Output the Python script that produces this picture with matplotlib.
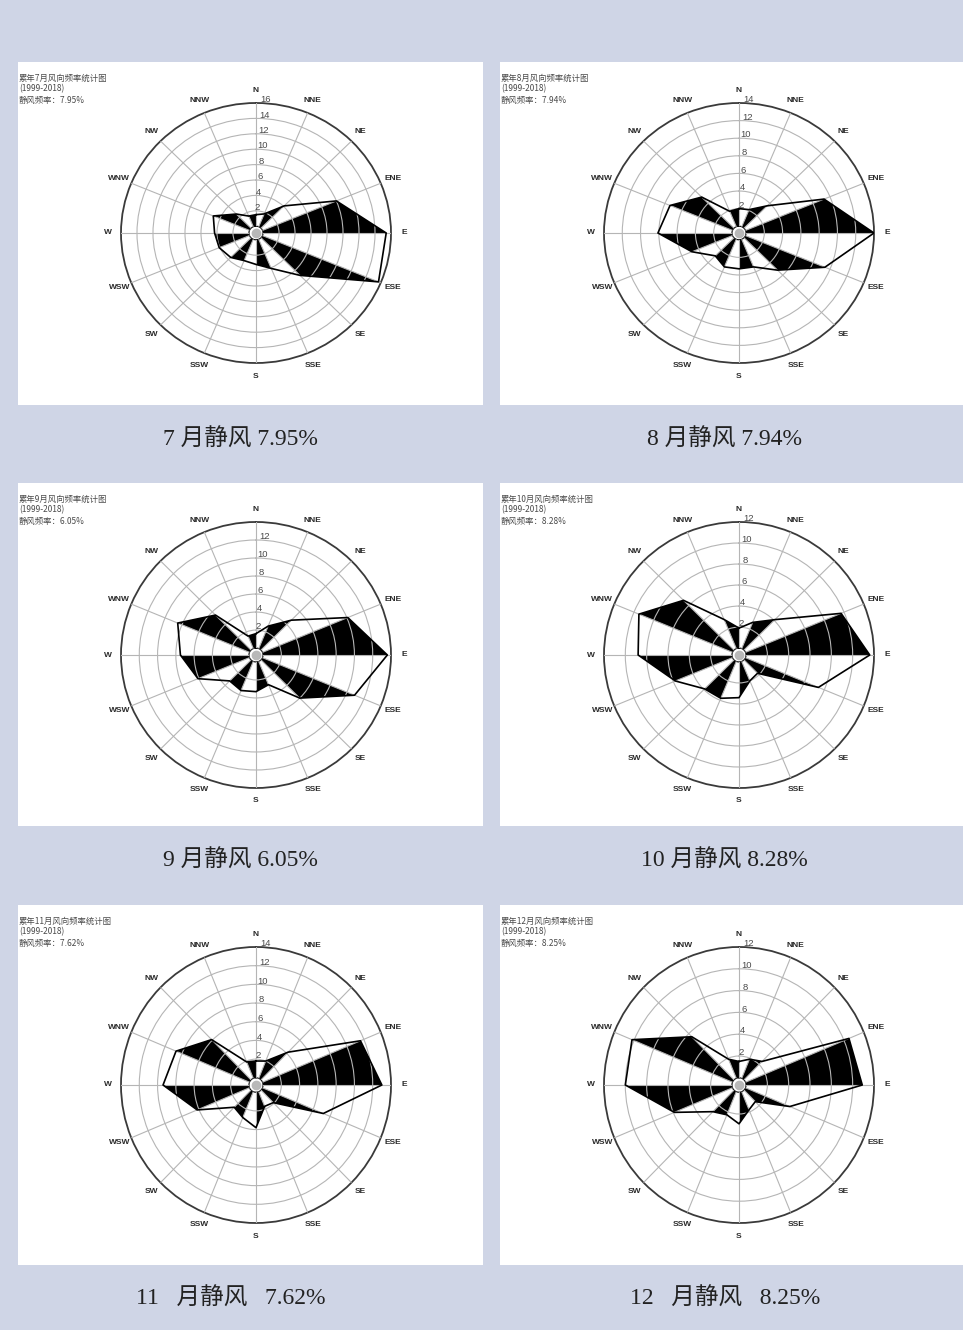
import matplotlib
matplotlib.use('Agg')
import matplotlib.pyplot as plt
from matplotlib import font_manager
from matplotlib.patches import Rectangle
import numpy as np

# 画布像素尺寸
W, H = 963, 1330

# 16个风向（从N起顺时针）
directions = ['N', 'NNE', 'NE', 'ENE', 'E', 'ESE', 'SE', 'SSE',
              'S', 'SSW', 'SW', 'WSW', 'W', 'WNW', 'NW', 'NNW']

months = [7, 8, 9, 10, 11, 12]
calm_freq = ['7.95', '7.94', '6.05', '8.28', '7.62', '8.25']
captions = ['7 月静风 7.95%', '8 月静风 7.94%',
            '9 月静风 6.05%', '10 月静风 8.28%',
            '11   月静风   7.62%', '12   月静风   8.25%']

# 各月风向频率 (%)
freq_jul = [1.5, 1.8, 4.1, 10.0, 15.4, 15.7, 6.9, 4.1, 3.2, 3.0, 3.6, 4.1, 4.3, 4.9, 2.6, 1.5]
freq_aug = [2.0, 2.1, 3.6, 9.3, 14.0, 9.4, 5.2, 3.4, 3.3, 3.4, 2.9, 4.8, 8.1, 7.4, 5.0, 1.9]
freq_sep = [1.6, 2.7, 4.7, 10.1, 13.6, 10.9, 6.0, 2.8, 3.3, 3.5, 3.3, 6.1, 7.5, 8.5, 5.5, 1.5]
freq_oct = [1.9, 2.7, 4.1, 9.7, 11.6, 7.4, 1.8, 2.0, 3.4, 3.8, 3.9, 5.8, 8.8, 9.5, 6.7, 3.0]
freq_nov = [1.8, 2.0, 4.2, 11.6, 13.0, 7.2, 1.9, 1.7, 3.8, 3.0, 2.6, 6.2, 9.4, 8.7, 6.1, 1.9]
freq_dec = [1.5, 1.9, 2.4, 10.5, 10.9, 4.5, 1.5, 1.8, 2.9, 2.3, 2.8, 5.9, 10.0, 10.2, 5.6, 1.9]
all_freq = [freq_jul, freq_aug, freq_sep, freq_oct, freq_nov, freq_dec]

# 外圈刻度最大值 / 标注到的最大刻度
r_max = [16, 14, 14, 12, 14, 12]
r_label_max = [16, 14, 12, 12, 14, 12]

# 字体
_names = set(f.name for f in font_manager.fontManager.ttflist)
NARROW = 'Liberation Sans Narrow' if 'Liberation Sans Narrow' in _names else 'Liberation Sans'
CJK = 'Noto Sans CJK SC'

BG = '#cfd5e6'

# 面板位置 (像素): 左, 上, 宽, 高
col_x = [(18, 465), (500, 463)]
row_y = [(62, 343), (483, 343), (905, 360)]
# 玫瑰图中心与半径 (像素)
rose_cx = [256, 739]
rose_row = [(233, 135, 130), (655, 135, 133), (1085, 135, 138)]
caption_y = [440, 861, 1299]
caption_x = [[240, 724], [240, 724], [231, 725]]


def fx(px):
    return px / float(W)


def fy(py):
    return 1 - py / float(H)


def drawRose(ax, values, rmax, label_max, rx, ry):
    theta = np.deg2rad(np.arange(16) * 22.5)
    vals = np.array(values)
    hole = rmax * 0.055

    ax.set_theta_zero_location('N')
    ax.set_theta_direction(-1)
    ax.set_ylim(0, rmax)
    ax.set_rorigin(-hole)
    ax.set_aspect('auto')
    ax.set_facecolor('white')

    # 黑白相间的三角形
    for i in range(1, 16, 2):
        j = (i + 1) % 16
        t1 = theta[i]
        t2 = theta[j] if j != 0 else 2 * np.pi
        ax.fill([t1, t1, t2, t2], [0, vals[i], vals[j], 0],
                color='black', lw=0, zorder=1)

    # 外轮廓
    ax.plot(np.append(theta, 2 * np.pi), np.append(vals, vals[0]),
            color='black', lw=1.2, zorder=3)

    ax.set_xticks(theta)
    ax.set_xticklabels([])
    ax.set_yticks(np.arange(2, rmax, 2))
    ax.set_yticklabels([])
    ax.set_axisbelow(False)
    ax.grid(True, color='#b5b5b5', lw=0.8)
    ax.spines['polar'].set_color('#3a3a3a')
    ax.spines['polar'].set_linewidth(1.3)

    # 方向标注
    for name, t in zip(directions, theta):
        x = 0.5 + 0.5 * (1 + 13.0 / rx) * np.sin(t)
        y = 0.5 + 0.5 * (1 + 13.0 / ry) * np.cos(t)
        ax.text(x, y, name, transform=ax.transAxes, ha='center', va='center',
                fontsize=6, fontweight='bold', family=NARROW, color='#2a2a2a')

    # 径向刻度标注
    for v in range(2, label_max + 1, 2):
        ax.annotate(str(v), xy=(np.deg2rad(4), v), xytext=(0, 2.5),
                    textcoords='offset points', ha='center', va='center',
                    fontsize=6.8, family='Liberation Sans', color='#4a4a4a',
                    annotation_clip=False, zorder=5)

    # 中心小圆
    ax.plot([0.5], [0.5], marker='o', ms=6, color='#b8b8b8',
            transform=ax.transAxes, zorder=4, clip_on=False)


fig = plt.figure(figsize=(W / 100.0, H / 100.0), dpi=100, facecolor=BG)

for k in range(6):
    row, col = k // 2, k % 2
    px, pw = col_x[col]
    py, ph = row_y[row]

    # 白色面板
    fig.add_artist(Rectangle((fx(px), fy(py + ph)), pw / float(W), ph / float(H),
                             transform=fig.transFigure, facecolor='white',
                             edgecolor='none', zorder=0))

    # 左上角小标题
    head = ['累年%d月风向频率统计图' % months[k], '(1999-2018)',
            '静风频率：%s%%' % calm_freq[k]]
    for n, line in enumerate(head):
        fig.text(fx(px + 1), fy(py + 16 + 11 * n), line, ha='left', va='center',
                 fontsize=6, family=[CJK, 'DejaVu Sans'], color='#4a4a4a')

    cy, rx, ry = rose_row[row]
    cx = rose_cx[col]
    ax = fig.add_axes([fx(cx - rx), fy(cy + ry), 2 * rx / float(W), 2 * ry / float(H)],
                      projection='polar')
    drawRose(ax, all_freq[k], r_max[k], r_label_max[k], rx, ry)

    # 下方说明文字
    fig.text(fx(caption_x[row][col]), fy(caption_y[row]), captions[k],
             ha='center', va='center', fontsize=17, fontweight='light',
             family=['Liberation Serif', CJK], color='#222222')

fig.savefig('out.png', dpi=100, facecolor=BG)
